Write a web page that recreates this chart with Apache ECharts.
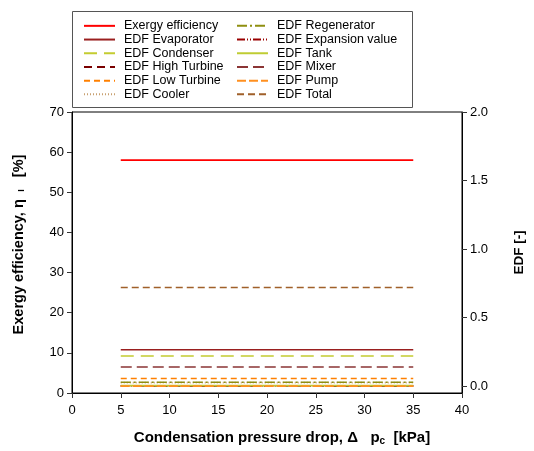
<!DOCTYPE html>
<html>
<head>
<meta charset="utf-8">
<script src="https://cdn.jsdelivr.net/npm/echarts@6/dist/echarts.min.js"></script>
<style>
html,body{margin:0;padding:0;background:#fff;}
#c{width:534px;height:451px;}
</style>
</head>
<body>
<div id="c"></div>
<script>
// Condensation pressure drop [kPa]
var pressureDrop = [5, 10, 15, 20, 25, 30, 35];
// Exergy efficiency [%] (left axis)
var exergyEfficiency = [58, 58, 58, 58, 58, 58, 58];
// EDF values [-] (right axis)
var edfEvaporator   = [0.265, 0.265, 0.265, 0.265, 0.265, 0.265, 0.265];
var edfCondenser    = [0.22, 0.22, 0.22, 0.22, 0.22, 0.22, 0.22];
var edfHighTurbine  = [0.002, 0.002, 0.002, 0.002, 0.002, 0.002, 0.002];
var edfLowTurbine   = [0.056, 0.056, 0.056, 0.056, 0.056, 0.056, 0.056];
var edfCooler       = [0.026, 0.026, 0.026, 0.026, 0.026, 0.026, 0.026];
var edfRegenerator  = [0.028, 0.028, 0.028, 0.028, 0.028, 0.028, 0.028];
var edfExpansion    = [0.001, 0.001, 0.001, 0.001, 0.001, 0.001, 0.001];
var edfTank         = [0.004, 0.004, 0.004, 0.004, 0.004, 0.004, 0.004];
var edfMixer        = [0.14, 0.14, 0.14, 0.14, 0.14, 0.14, 0.14];
var edfPump         = [0.0, 0.0, 0.0, 0.0, 0.0, 0.0, 0.0];
var edfTotal        = [0.72, 0.72, 0.72, 0.72, 0.72, 0.72, 0.72];

var xTicks = [0, 5, 10, 15, 20, 25, 30, 35, 40];
var leftTicks = [0, 10, 20, 30, 40, 50, 60, 70];
var rightTicks = [0, 0.5, 1.0, 1.5, 2.0];

function pairs(vals) {
  return pressureDrop.map(function (x, i) { return [x, vals[i]]; });
}

var defs = [
  {name: 'Exergy efficiency',   data: exergyEfficiency, axis: 0, color: '#ff0000', type: 'solid'},
  {name: 'EDF Evaporator',      data: edfEvaporator,    axis: 1, color: '#9a1f1f', type: 'solid'},
  {name: 'EDF Condenser',       data: edfCondenser,     axis: 1, color: '#c4cc30', type: [13, 7]},
  {name: 'EDF High Turbine',    data: edfHighTurbine,   axis: 1, color: '#7a0000', type: [8, 5]},
  {name: 'EDF Low Turbine',     data: edfLowTurbine,    axis: 1, color: '#ff8000', type: [6, 4]},
  {name: 'EDF Cooler',          data: edfCooler,        axis: 1, color: '#c8a070', type: [1, 2]},
  {name: 'EDF Regenerator',     data: edfRegenerator,   axis: 1, color: '#8f8f10', type: [10, 3, 2, 3]},
  {name: 'EDF Expansion value', data: edfExpansion,     axis: 1, color: '#990000', type: [8, 2, 1, 2, 1, 2]},
  {name: 'EDF Tank',            data: edfTank,          axis: 1, color: '#bfcc33', type: 'solid'},
  {name: 'EDF Mixer',           data: edfMixer,         axis: 1, color: '#8b3535', type: [11, 5]},
  {name: 'EDF Pump',            data: edfPump,          axis: 1, color: '#ff9020', type: [9, 3]},
  {name: 'EDF Total',           data: edfTotal,         axis: 1, color: '#a0602a', type: [7, 4]}
];

var series = defs.map(function (d) {
  return {
    name: d.name,
    type: 'line',
    yAxisIndex: d.axis,
    data: pairs(d.data),
    symbol: 'none',
    showSymbol: false,
    silent: true,
    animation: false,
    lineStyle: {color: d.color, width: 1.6, type: d.type},
    itemStyle: {color: d.color}
  };
});

var legendText = {fontFamily: 'Liberation Sans, Arial', fontSize: 12.5, color: '#000', lineHeight: 13.7, padding: [0, 0, 0, 4]};

var chart = echarts.init(document.getElementById('c'), null, {renderer: 'canvas'});
chart.setOption({
  backgroundColor: '#fff',
  animation: false,
  textStyle: {fontFamily: 'Liberation Sans, Arial'},
  grid: {left: 72, top: 112, right: 71, bottom: 58, show: true, borderColor: '#000', borderWidth: 1, backgroundColor: 'transparent'},
  legend: [
    {
      orient: 'vertical', left: 83, top: 19, padding: 0, itemGap: 0,
      itemWidth: 31, itemHeight: 10, selectedMode: false,
      itemStyle: {opacity: 0},
      data: defs.slice(0, 6).map(function (d) { return d.name; }),
      textStyle: legendText
    },
    {
      orient: 'vertical', left: 236, top: 19, padding: 0, itemGap: 0,
      itemWidth: 31, itemHeight: 10, selectedMode: false,
      itemStyle: {opacity: 0},
      data: defs.slice(6).map(function (d) { return d.name; }),
      textStyle: legendText
    }
  ],
  graphic: [{
    type: 'rect', left: 72, top: 11, z: -1,
    shape: {width: 340, height: 96},
    style: {fill: '#fff', stroke: '#555', lineWidth: 1}
  }],
  xAxis: {
    type: 'value', min: 0, max: 40, interval: 5,
    name: '{b|Condensation pressure drop, Δ   p}{s|c}{b|  [kPa]}',
    nameLocation: 'middle', nameGap: 36,
    nameTextStyle: {padding: [0, 0, 0, 30], rich: {
      b: {fontFamily: 'Liberation Sans, Arial', fontWeight: 'bold', fontSize: 15, color: '#000'},
      s: {fontFamily: 'Liberation Sans, Arial', fontWeight: 'bold', fontSize: 10, color: '#000', verticalAlign: 'bottom', padding: [7, 0, 0, 0]}
    }},
    axisLine: {show: true, lineStyle: {color: '#000', width: 1}},
    axisTick: {show: true, length: 5, lineStyle: {color: '#333'}},
    axisLabel: {fontSize: 13, color: '#000', margin: 11, fontFamily: 'Liberation Sans, Arial'},
    splitLine: {show: false}
  },
  yAxis: [
    {
      type: 'value', min: 0, max: 70, interval: 10, position: 'left',
      name: '{b|Exergy efficiency, η}{s|   I}{b|   [%]}',
      nameLocation: 'middle', nameGap: 46, nameRotate: 90,
      nameTextStyle: {padding: [0, 0, 0, 16], rich: {
        b: {fontFamily: 'Liberation Sans, Arial', fontWeight: 'bold', fontSize: 14.5, color: '#000'},
        s: {fontFamily: 'Liberation Sans, Arial', fontWeight: 'bold', fontSize: 9, color: '#000', verticalAlign: 'bottom', padding: [6, 0, 0, 0]}
      }},
      axisLine: {show: true, lineStyle: {color: '#000', width: 1}},
      axisTick: {show: true, length: 5, lineStyle: {color: '#333'}},
      axisLabel: {fontSize: 13, color: '#000', margin: 8, fontFamily: 'Liberation Sans, Arial'},
      splitLine: {show: false}
    },
    {
      type: 'value', min: -0.05, max: 2.0, position: 'right',
      name: 'EDF [-]',
      nameLocation: 'middle', nameGap: 50, nameRotate: 90,
      nameTextStyle: {fontFamily: 'Liberation Sans, Arial', fontWeight: 'bold', fontSize: 13.5, color: '#000'},
      axisLine: {show: true, lineStyle: {color: '#000', width: 1}},
      axisTick: {show: true, length: 5, lineStyle: {color: '#333'}, customValues: rightTicks},
      axisLabel: {fontSize: 13, color: '#000', margin: 8, fontFamily: 'Liberation Sans, Arial',
        customValues: rightTicks,
        formatter: function (v) { return v.toFixed(1); }},
      splitLine: {show: false}
    }
  ],
  series: series
});
</script>
</body>
</html>
